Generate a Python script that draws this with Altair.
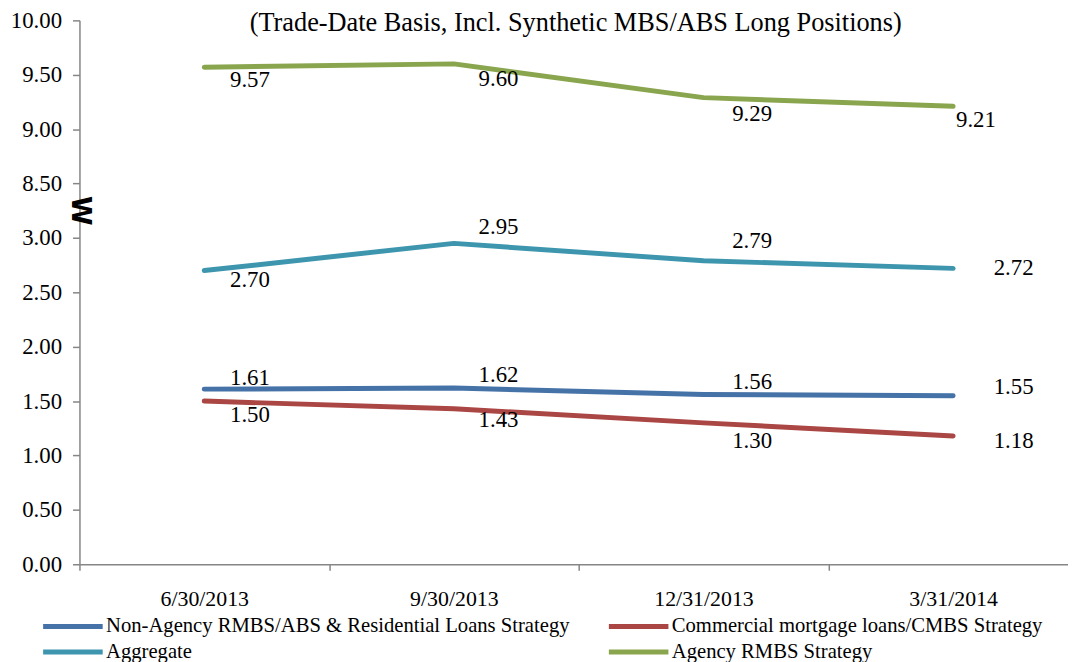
import altair as alt
import pandas as pd

# ---------------- data ----------------
dates = ["6/30/2013", "9/30/2013", "12/31/2013", "3/31/2014"]
series_names = [
    "Non-Agency RMBS/ABS & Residential Loans Strategy",
    "Commercial mortgage loans/CMBS Strategy",
    "Aggregate",
    "Agency RMBS Strategy",
]
non_agency = [1.61, 1.62, 1.56, 1.55]
commercial = [1.50, 1.43, 1.30, 1.18]
aggregate = [2.70, 2.95, 2.79, 2.72]
agency = [9.57, 9.60, 9.29, 9.21]
y_tick_labels = [0.0, 0.5, 1.0, 1.5, 2.0, 2.5, 3.0, 8.5, 9.0, 9.5, 10.0]
title_text = "(Trade-Date Basis, Incl. Synthetic MBS/ABS Long Positions)"

# ---------------- style ----------------
colors = ["#4572A7", "#AA4643", "#3D96AE", "#89A54E"]
BREAK_LOW, BREAK_HIGH = 3.0, 8.5
GAP = BREAK_HIGH - BREAK_LOW - 0.5  # compressed gap becomes one 0.5 step

label_dx = {
    series_names[0]: [46, 45, 49, 61],
    series_names[1]: [46, 45, 49, 61],
    series_names[2]: [46, 45, 49, 61],
    series_names[3]: [46, 45, 49, 23],
}
label_dy = {
    series_names[0]: [-11, -13, -13, -9],
    series_names[1]: [14, 11, 18, 5],
    series_names[2]: [10, -16, -20, 0],
    series_names[3]: [13, 15, 17, 14],
}

FONT = "Liberation Serif"

values = [non_agency, commercial, aggregate, agency]
rows = []
for name, vals in zip(series_names, values):
    for i, (d, v) in enumerate(zip(dates, vals)):
        rows.append({"date": d, "series": name, "value": v, "idx": i,
                     "dx": label_dx[name][i], "dy": label_dy[name][i]})
df = pd.DataFrame(rows)

def compress(v):
    return v - GAP if v > BREAK_LOW else v

tick_positions = [compress(v) for v in y_tick_labels]

base = alt.Chart(df).transform_calculate(
    yp=f"datum.value > {BREAK_LOW} ? datum.value - {GAP} : datum.value",
    lbl="format(datum.value, '.2f')",
)

x_enc = alt.X(
    "date:N",
    sort=dates,
    scale=alt.Scale(type="band", paddingInner=0, paddingOuter=0, range=[0, 1006]),
    axis=alt.Axis(
        title=None, tickBand="extent", labelAngle=0, labelFont=FONT,
        labelFontSize=22, labelColor="black", labelPadding=19,
        domainColor="#868686", domainWidth=1.5, tickColor="#868686",
        tickWidth=1.5, tickSize=6, grid=False,
    ),
)
y_enc = alt.Y(
    "yp:Q",
    scale=alt.Scale(domain=[0, compress(10.0)], nice=False, zero=False),
    axis=alt.Axis(
        title=None, values=tick_positions,
        labelExpr=f"format(datum.value > {BREAK_LOW} ? datum.value + {GAP} : datum.value, '.2f')",
        labelFont=FONT, labelFontSize=23, labelColor="black", labelPadding=11,
        domainColor="#868686", domainWidth=1.5, tickColor="#868686",
        tickWidth=1.5, tickSize=7, grid=False,
    ),
)

lines = base.mark_line(strokeWidth=5, strokeCap="round", strokeJoin="round").encode(
    x=x_enc,
    y=y_enc,
    color=alt.Color(
        "series:N",
        scale=alt.Scale(domain=series_names, range=colors),
        legend=alt.Legend(
            title=None, orient="none", legendX=-17, legendY=600, columns=2,
            direction="horizontal",
            symbolType="M-6,0L6,0", symbolSize=100, symbolStrokeWidth=5,
            labelFont=FONT, labelFontSize=20.8, labelColor="black",
            labelOffset=23, columnPadding=28, rowPadding=4, padding=0,
            labelLimit=600,
        ),
    ),
)

labels = base.mark_text(
    font=FONT, fontSize=23, color="black",
    dx=alt.expr("datum.dx"), dy=alt.expr("datum.dy"),
).encode(
    x=alt.X("date:N", sort=dates),
    y=alt.Y("yp:Q"),
    text="lbl:N",
)

brk = alt.Chart(pd.DataFrame({"v": [(BREAK_LOW + compress(BREAK_HIGH)) / 2]})).mark_text(
    text="W", font="DejaVu Sans", fontWeight="bold", fontSize=27, angle=90, color="black",
).encode(
    x=alt.value(0),
    y=alt.Y("v:Q"),
)

title = alt.Chart(pd.DataFrame({"t": [title_text]})).mark_text(
    font=FONT, fontSize=26.5, color="black", baseline="alphabetic", align="center",
).encode(
    x=alt.value(500),
    y=alt.value(11),
    text="t:N",
)

chart = alt.layer(lines, labels, brk, title).properties(
    width=988, height=548,
    autosize=alt.AutoSizeParams(type="none"),
    padding={"left": 72, "top": 10, "right": 8, "bottom": 96},
).configure_view(stroke=None)

chart.save("out.html", embed_options={"renderer": "svg", "actions": False})
